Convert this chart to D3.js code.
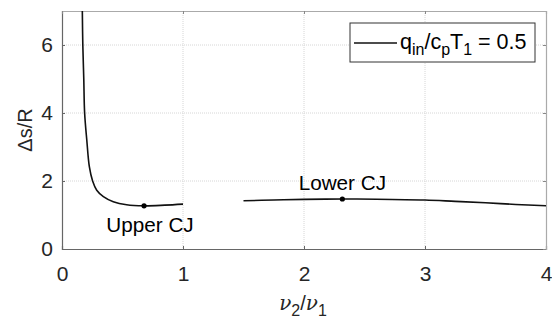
<!DOCTYPE html>
<html>
<head>
<meta charset="utf-8">
<script src="https://cdn.jsdelivr.net/npm/d3@7"></script>
<style>
  body { margin: 0; background: #fff; }
  svg text { font-family: "Liberation Sans", Arial, sans-serif; }
</style>
</head>
<body>
<div id="chart"></div>
<script>
// values
var upperX = [0.168, 0.172, 0.18, 0.187, 0.205, 0.226, 0.253, 0.287, 0.342, 0.424, 0.534, 0.678, 0.85, 1.0]
var upperY = [7.0, 6.0, 5.0, 4.0, 3.2, 2.42, 2.0, 1.73, 1.54, 1.39, 1.30, 1.27, 1.29, 1.32]
var lowerX = [1.5, 1.75, 2.0, 2.32, 2.6, 3.0, 3.25, 3.5, 3.75, 4.0]
var lowerY = [1.42, 1.44, 1.46, 1.47, 1.465, 1.44, 1.40, 1.36, 1.31, 1.27]
var cjPoints = [[0.678, 1.27], [2.317, 1.47]]
var cjLabels = ['Upper CJ', 'Lower CJ']
var xTicks = [0, 1, 2, 3, 4]
var yTicks = [0, 2, 4, 6]

var W = 552, H = 320
var margin = { top: 11, right: 6, bottom: 71, left: 62 }
var width = W - margin.left - margin.right
var height = H - margin.top - margin.bottom

var svg = d3.select('#chart').append('svg')
  .attr('width', W)
  .attr('height', H)

var g = svg.append('g')
  .attr('transform', 'translate(' + margin.left + ',' + margin.top + ')')

var x = d3.scaleLinear().domain([0, 4]).range([0, width])
var y = d3.scaleLinear().domain([0, 7]).range([height, 0])

// grid
g.append('g').selectAll('line').data(xTicks.slice(1, -1)).enter().append('line')
  .attr('x1', d => x(d)).attr('x2', d => x(d))
  .attr('y1', 0).attr('y2', height)
  .attr('stroke', '#d6d6d6').attr('stroke-dasharray', '1,1')
g.append('g').selectAll('line').data(yTicks.slice(1)).enter().append('line')
  .attr('x1', 0).attr('x2', width)
  .attr('y1', d => y(d)).attr('y2', d => y(d))
  .attr('stroke', '#d6d6d6').attr('stroke-dasharray', '1,1')

// axes (ticks inside)
var xAxis = g.append('g')
  .attr('transform', 'translate(0,' + height + ')')
  .call(d3.axisBottom(x).tickValues(xTicks).tickSize(-3).tickPadding(17).tickFormat(d3.format('d')))
var yAxis = g.append('g')
  .call(d3.axisLeft(y).tickValues(yTicks).tickSize(-3).tickPadding(9).tickFormat(d3.format('d')))
var xTop = g.append('g')
  .call(d3.axisTop(x).tickValues(xTicks).tickSize(-3).tickFormat(''))
var yRight = g.append('g')
  .attr('transform', 'translate(' + width + ',0)')
  .call(d3.axisRight(y).tickValues(yTicks).tickSize(-3).tickFormat(''))

;[xAxis, yAxis].forEach(a => {
  a.select('.domain').attr('stroke', '#666').attr('stroke-width', 1.2)
  a.selectAll('.tick line').attr('stroke', '#666')
  a.selectAll('.tick text').attr('font-size', 21).attr('fill', '#262626')
    .style('font-family', '"Liberation Sans", Arial, sans-serif')
})
;[xTop, yRight].forEach(a => {
  a.select('.domain').attr('stroke', '#aaa').attr('stroke-width', 1.2)
  a.selectAll('.tick line').attr('stroke', '#888')
})

// curves
svg.append('defs').append('clipPath').attr('id', 'clip')
  .append('rect').attr('width', width).attr('height', height)

var line = d3.line()
  .x(d => x(d[0]))
  .y(d => y(d[1]))
  .curve(d3.curveCatmullRom.alpha(0.5))

var branches = [
  upperX.map((v, i) => [v, upperY[i]]),
  lowerX.map((v, i) => [v, lowerY[i]])
]
g.append('g').attr('clip-path', 'url(#clip)')
  .selectAll('path').data(branches).enter().append('path')
  .attr('d', line)
  .attr('fill', 'none')
  .attr('stroke', '#111')
  .attr('stroke-width', 1.6)

g.selectAll('circle.cj').data(cjPoints).enter().append('circle')
  .attr('class', 'cj')
  .attr('cx', d => x(d[0]))
  .attr('cy', d => y(d[1]))
  .attr('r', 2.6)
  .attr('fill', '#000')

g.selectAll('text.cjlabel').data(cjPoints).enter().append('text')
  .attr('class', 'cjlabel')
  .attr('x', (d, i) => x(d[0]) + (i == 0 ? 6 : 0))
  .attr('y', (d, i) => i == 0 ? y(d[1]) + 26 : y(d[1]) - 9)
  .attr('text-anchor', 'middle')
  .attr('font-size', 20.7)
  .attr('fill', '#000')
  .text((d, i) => cjLabels[i])

// legend
var legend = svg.append('g').attr('transform', 'translate(350,23)')
legend.append('rect')
  .attr('width', 185).attr('height', 39)
  .attr('fill', '#fff').attr('stroke', '#333').attr('stroke-width', 1)
legend.append('line')
  .attr('x1', 4).attr('x2', 47).attr('y1', 20).attr('y2', 20)
  .attr('stroke', '#111').attr('stroke-width', 1.6)
var lt = legend.append('text').attr('x', 50).attr('y', 26).attr('font-size', 21.5).attr('fill', '#000')
lt.append('tspan').text('q')
lt.append('tspan').attr('font-size', 16).attr('dy', 6).text('in')
lt.append('tspan').attr('dy', -6).text('/c')
lt.append('tspan').attr('font-size', 16).attr('dy', 6).text('p')
lt.append('tspan').attr('dy', -6).text('T')
lt.append('tspan').attr('font-size', 16).attr('dy', 6).text('1')
lt.append('tspan').attr('dy', -6).text(' = 0.5')

// axis labels
var xl = svg.append('text')
  .attr('x', margin.left + x(2) - 1)
  .attr('y', 310)
  .attr('text-anchor', 'middle')
  .attr('font-size', 20)
  .attr('fill', '#262626')
xl.append('tspan').attr('font-family', '"DejaVu Serif", serif').attr('font-style', 'italic').text('ν')
xl.append('tspan').attr('font-size', 16).attr('dy', 6).text('2')
xl.append('tspan').attr('dy', -6).text('/')
xl.append('tspan').attr('font-family', '"DejaVu Serif", serif').attr('font-style', 'italic').text('ν')
xl.append('tspan').attr('font-size', 16).attr('dy', 6).text('1')

svg.append('text')
  .text('Δs/R')
  .attr('text-anchor', 'middle')
  .attr('font-size', 20)
  .attr('fill', '#262626')
  .attr('transform', 'translate(32,' + (margin.top + height / 2) + ') rotate(-90)')
</script>
</body>
</html>
